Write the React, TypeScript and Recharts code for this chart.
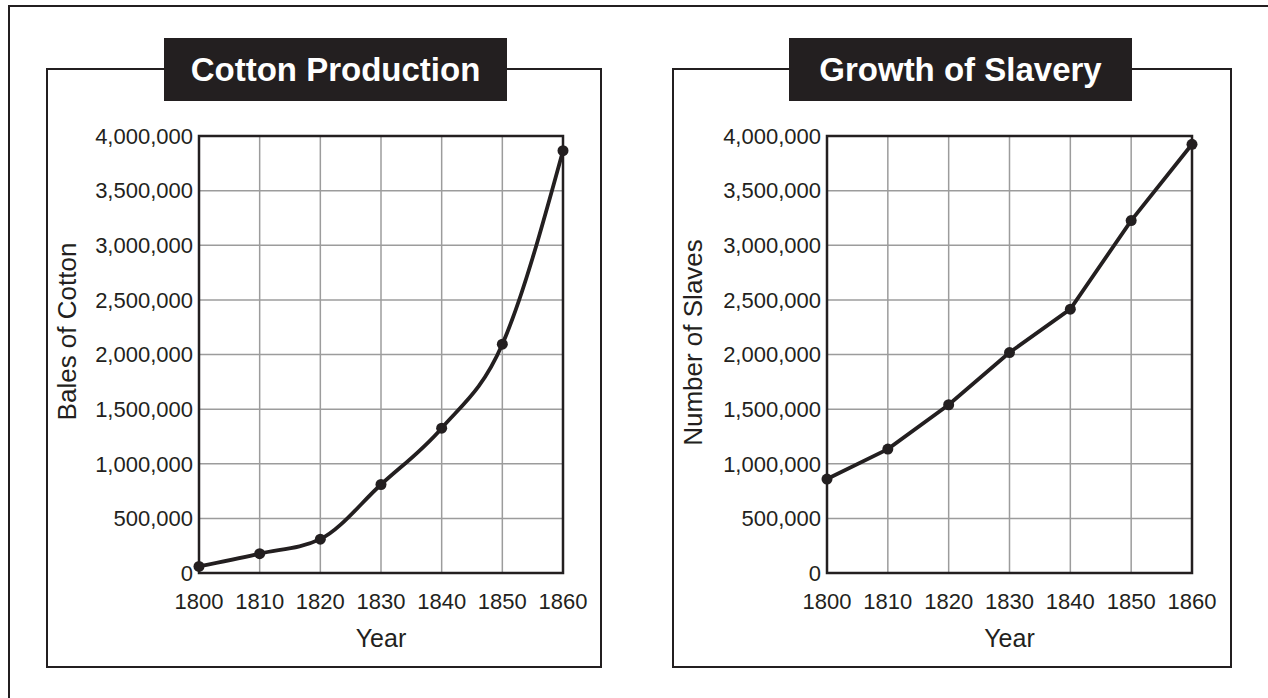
import { LineChart, Line, XAxis, YAxis, CartesianGrid, ReferenceArea, Label } from "recharts";

// values
const years = [1800, 1810, 1820, 1830, 1840, 1850, 1860];
const cottonBales = [60000, 177000, 310000, 810000, 1326000, 2094000, 3866000];
const slaveCount = [860000, 1134000, 1540000, 2018000, 2415000, 3226000, 3924000];
const valueTicks = [0, 500000, 1000000, 1500000, 2000000, 2500000, 3000000, 3500000, 4000000];

const INK = "#231f20";
const GRID = "#9c9c9c";
const FONT = "'Liberation Sans', Arial, Helvetica, sans-serif";

function SideLabel({ viewBox, value, dx, dy }: any) {
  const x = viewBox.x + dx;
  const y = viewBox.y + viewBox.height / 2 + dy;
  return (
    <text
      x={x}
      y={y}
      transform={`rotate(-90 ${x} ${y})`}
      textAnchor="middle"
      dominantBaseline="central"
      fontSize={26}
      fontFamily={FONT}
      fill={INK}
    >
      {value}
    </text>
  );
}

type PanelProps = {
  title: string;
  yLabel: string;
  values: number[];
  curve: "monotone" | "linear";
  boxLeft: number;
  titleLeft: number;
  chartLeft: number;
  chartWidth: number;
  marginLeft: number;
  marginRight: number;
  labelDx: number;
  labelDy: number;
};

function Panel(p: PanelProps) {
  const data = years.map((year, i) => ({ year, value: p.values[i] }));
  return (
    <>
      <div
        style={{
          position: "absolute",
          left: p.boxLeft,
          top: 68,
          width: p.chartWidth + 4,
          height: 600,
          border: `2.5px solid ${INK}`,
          boxSizing: "border-box",
        }}
      />
      <div style={{ position: "absolute", left: p.chartLeft, top: 100 }}>
        <LineChart
          width={p.chartWidth}
          height={565}
          data={data}
          margin={{ top: 36, right: p.marginRight, bottom: 12, left: p.marginLeft }}
        >
          <CartesianGrid stroke={GRID} strokeWidth={1.5} />
          <XAxis
            dataKey="year"
            type="number"
            domain={[1800, 1860]}
            ticks={years}
            height={80}
            axisLine={false}
            tickLine={false}
            tickMargin={14}
            tick={{ fill: INK, fontSize: 22, fontFamily: FONT }}
          >
            <Label
              value="Year"
              position="insideBottom"
              offset={6}
              style={{ fill: INK, fontSize: 25, fontFamily: FONT }}
            />
          </XAxis>
          <YAxis
            type="number"
            domain={[0, 4000000]}
            ticks={valueTicks}
            width={120}
            axisLine={false}
            tickLine={false}
            tickMargin={0}
            interval={0}
            tickFormatter={(v: number) => v.toLocaleString("en-US")}
            tick={{ fill: INK, fontSize: 22, fontFamily: FONT }}
          >
            <Label
              value={p.yLabel}
              content={(lp: any) => <SideLabel {...lp} value={p.yLabel} dx={p.labelDx} dy={p.labelDy} />}
            />
          </YAxis>
          <ReferenceArea
            x1={1800}
            x2={1860}
            y1={0}
            y2={4000000}
            fill="none"
            stroke={INK}
            strokeWidth={2.5}
          />
          <Line
            type={p.curve}
            dataKey="value"
            stroke={INK}
            strokeWidth={3.8}
            dot={{ r: 5.5, fill: INK, stroke: "none" }}
            activeDot={false}
            isAnimationActive={false}
          />
        </LineChart>
      </div>
      <div
        style={{
          position: "absolute",
          left: p.titleLeft,
          top: 38,
          width: 343,
          height: 63,
          background: INK,
          color: "#fff",
          fontFamily: FONT,
          fontWeight: 700,
          fontSize: 33,
          display: "flex",
          alignItems: "center",
          justifyContent: "center",
        }}
      >
        {p.title}
      </div>
    </>
  );
}

export default function App() {
  return (
    <div
      style={{
        position: "absolute",
        left: 0,
        top: 0,
        width: 1268,
        height: 698,
        overflow: "hidden",
        background: "#fff",
      }}
    >
      <div
        style={{
          position: "absolute",
          left: 8,
          top: 5,
          width: 1400,
          height: 900,
          border: `2.5px solid ${INK}`,
        }}
      />
      <Panel
        title="Cotton Production"
        yLabel="Bales of Cotton"
        values={cottonBales}
        curve="monotone"
        boxLeft={46}
        titleLeft={164}
        chartLeft={48}
        chartWidth={552}
        marginLeft={31}
        marginRight={37}
        labelDx={-12}
        labelDy={-23}
      />
      <Panel
        title="Growth of Slavery"
        yLabel="Number of Slaves"
        values={slaveCount}
        curve="linear"
        boxLeft={672}
        titleLeft={789}
        chartLeft={674}
        chartWidth={556}
        marginLeft={33}
        marginRight={38}
        labelDx={-14}
        labelDy={-12}
      />
    </div>
  );
}
